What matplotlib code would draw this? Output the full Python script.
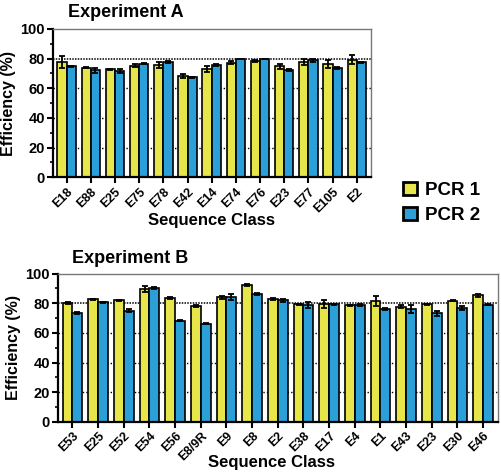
import numpy as np
import matplotlib
matplotlib.use("Agg")
import matplotlib.pyplot as plt
from matplotlib.patches import Patch
from matplotlib.ticker import MultipleLocator

plt.rcParams['font.family'] = ['Liberation Sans', 'DejaVu Sans']
plt.rcParams['font.weight'] = 'bold'

# Experiment A
labels_a = ['E18', 'E88', 'E25', 'E75', 'E78', 'E42', 'E14', 'E74', 'E76', 'E23', 'E77', 'E105', 'E2']
pcr1_a = [77.5, 74.0, 72.7, 75.3, 75.7, 68.3, 73.0, 77.3, 78.6, 74.8, 77.7, 76.4, 79.3]
pcr2_a = [74.8, 72.0, 71.6, 76.6, 77.7, 67.3, 75.9, 80.0, 80.0, 72.3, 78.8, 73.6, 77.5]
err1_a = [4.0, 0.6, 0.5, 0.8, 1.8, 1.3, 2.2, 0.8, 0.6, 1.8, 2.0, 2.5, 3.0]
err2_a = [0.5, 1.5, 1.5, 0.5, 0.6, 0.5, 0.8, 0.0, 0.0, 0.5, 0.8, 0.5, 0.5]

# Experiment B
labels_b = ['E53', 'E25', 'E52', 'E54', 'E56', 'E8/9R', 'E9', 'E8', 'E2', 'E38', 'E17',
            'E4', 'E1', 'E43', 'E23', 'E30', 'E46']
pcr1_b = [80.3, 82.6, 81.9, 89.8, 83.7, 78.3, 83.9, 92.1, 82.6, 79.4, 79.4, 78.5, 81.4, 77.8, 79.4, 81.7, 85.3]
pcr2_b = [73.3, 80.5, 75.1, 90.3, 68.3, 66.3, 84.2, 86.4, 81.9, 78.5, 79.4, 79.0, 76.2, 76.2, 73.1, 76.9, 79.0]
err1_b = [0.8, 0.3, 0.6, 2.0, 0.8, 0.5, 0.8, 0.8, 0.6, 0.4, 2.5, 0.4, 3.5, 0.8, 0.4, 0.3, 0.8]
err2_b = [0.5, 0.5, 0.8, 0.6, 0.6, 0.4, 2.0, 0.6, 0.8, 2.0, 0.4, 0.8, 0.5, 2.5, 1.5, 1.5, 0.3]

yellow = '#e6e54a'
blue = '#2a9fd8'
w = 0.38


def draw_panel(ax, labels, p1, p2, e1, e2):
    x = np.arange(len(labels))
    for y in [20, 40, 60]:
        ax.axhline(y, color='black', ls=(0, (1, 1.5)), lw=1.0, zorder=0)
    ax.axhline(80, color='black', ls=(0, (1, 0.8)), lw=1.1, zorder=0)
    ekw = dict(elinewidth=1.3, capthick=1.3, ecolor='black')
    ax.bar(x - w / 2, p1, w, color=yellow, edgecolor='black', lw=1.2, zorder=2,
           yerr=e1, capsize=2.5, error_kw=ekw)
    ax.bar(x + w / 2, p2, w, color=blue, edgecolor='black', lw=1.2, zorder=2,
           yerr=e2, capsize=2.5, error_kw=ekw)
    ax.set_xlim(-0.56, len(labels) - 1 + 0.58)
    ax.set_ylim(0, 100)
    ax.yaxis.set_major_locator(MultipleLocator(20))
    ax.yaxis.set_minor_locator(MultipleLocator(10))
    ax.set_xticks(x)
    ax.set_xticklabels(labels, rotation=45, ha='right', rotation_mode='anchor',
                       fontsize=9, fontweight='bold')
    ax.tick_params(axis='y', labelsize=10.5, width=1.5, length=4, pad=2)
    ax.tick_params(axis='y', which='minor', width=1.2, length=2.5)
    ax.tick_params(axis='x', width=1.5, length=4, pad=2)
    for s in ['left', 'bottom']:
        ax.spines[s].set_linewidth(1.6)
        ax.spines[s].set_color('black')
    for s in ['top', 'right']:
        ax.spines[s].set_linewidth(1.0)
        ax.spines[s].set_color('#777777')
    ax.set_ylabel('Efficiency (%)', fontsize=11.5, fontweight='bold', labelpad=3)


fig = plt.figure(figsize=(5.01, 4.75), dpi=100)
ax1 = fig.add_axes([0.106, 0.627, 0.634, 0.312])
ax2 = fig.add_axes([0.116, 0.112, 0.878, 0.312])

draw_panel(ax1, labels_a, pcr1_a, pcr2_a, err1_a, err2_a)
draw_panel(ax2, labels_b, pcr1_b, pcr2_b, err1_b, err2_b)

# titles and x labels placed in figure coordinates
fig.text(68 / 501, 0.964, 'Experiment A', fontsize=13, fontweight='bold', va='baseline')
fig.text(72 / 501, 0.446, 'Experiment B', fontsize=13, fontweight='bold', va='baseline')
fig.text(211 / 501, 0.526, 'Sequence Class', fontsize=12, fontweight='bold',
         ha='center', va='baseline')
fig.text(272 / 501, 0.016, 'Sequence Class', fontsize=12, fontweight='bold',
         ha='center', va='baseline')

handles = [Patch(facecolor=yellow, edgecolor='black', lw=2, label='PCR 1'),
           Patch(facecolor=blue, edgecolor='black', lw=2, label='PCR 2')]
fig.legend(handles=handles, loc='center left', bbox_to_anchor=(0.77, 0.573),
           frameon=False, prop={'weight': 'bold', 'size': 13.5},
           handlelength=0.75, handleheight=0.75, handletextpad=0.45, labelspacing=0.4)

fig.savefig('out.png', dpi=100)
